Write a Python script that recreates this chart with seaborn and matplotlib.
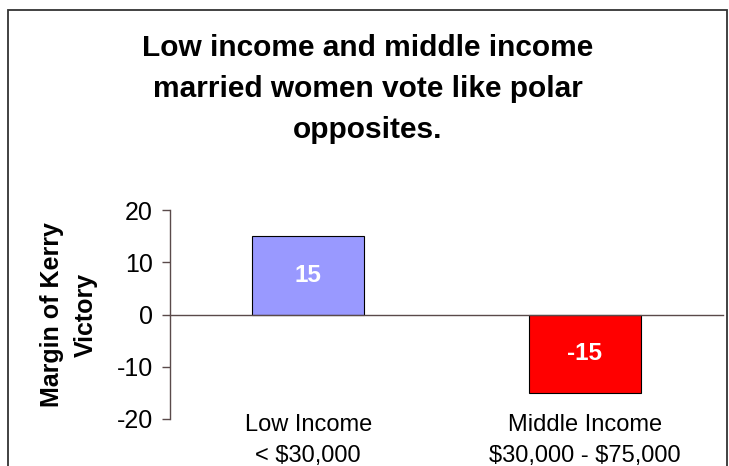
import matplotlib
matplotlib.use("Agg")
import matplotlib.pyplot as plt
import matplotlib.transforms as mtransforms
from matplotlib.patches import Rectangle
import seaborn as sns
import pandas as pd

categories = ["Low Income\n< $30,000", "Middle Income\n$30,000 - $75,000"]
margins = [15, -15]
bar_colors = ["#9999FF", "#FF0000"]
bar_labels = ["15", "-15"]
yticks = [-20, -10, 0, 10, 20]
title = "Low income and middle income\nmarried women vote like polar\nopposites."
ylabel = "Margin of Kerry\nVictory"

sns.set_theme(style="white")
plt.rcParams["font.family"] = ["Liberation Sans", "DejaVu Sans"]
plt.rcParams["text.color"] = "black"
plt.rcParams["axes.labelcolor"] = "black"
plt.rcParams["xtick.color"] = "black"
plt.rcParams["ytick.color"] = "black"

df = pd.DataFrame({"cat": categories, "margin": margins})

W, H = 729, 466
fig = plt.figure(figsize=(W / 100, H / 100), dpi=100)
ax = fig.add_axes([170 / W, 1 - 419 / H, (723 - 170) / W, (419 - 210) / H])

sns.barplot(data=df, x="cat", y="margin", hue="cat", palette=bar_colors,
            width=0.405, edgecolor="black", linewidth=0.8, legend=False,
            saturation=1, ax=ax)

ax.set_xlim(-0.5, 1.5)
ax.set_ylim(-20, 20)
ax.set_yticks(yticks)
ax.set_yticklabels([str(t) for t in yticks], fontsize=18)

axis_color = "#5a4a4a"
for s in ["top", "right"]:
    ax.spines[s].set_visible(False)
ax.spines["bottom"].set_position(("data", 0))
ax.spines["bottom"].set_color(axis_color)
ax.spines["left"].set_color(axis_color)
ax.spines["bottom"].set_linewidth(1.0)
ax.spines["left"].set_linewidth(1.0)

ax.set_xticks([-0.5, 0.5, 1.5])
ax.set_xticklabels(["", "", ""])
ax.tick_params(axis="x", direction="out", length=5, color=axis_color, width=1.0)
ax.tick_params(axis="y", direction="out", length=5.5, color=axis_color, width=1.0,
               left=True, pad=7, labelcolor="black")
ax.set_xlabel("")
ax.set_ylabel(ylabel, fontsize=18, fontweight="bold", linespacing=1.5,
              color="black")
ax.yaxis.set_label_coords((98 - 170) / 553, 0.5)

trans = mtransforms.blended_transform_factory(ax.transData, ax.transAxes)
for i, c in enumerate(categories):
    ax.text(i, 0.025, c.replace("$", r"\$"), transform=trans, ha="center",
            va="top", fontsize=17, linespacing=1.55, color="black")

for i, (v, lab) in enumerate(zip(margins, bar_labels)):
    ax.text(i, v / 2, lab, ha="center", va="center", color="white",
            fontsize=17.5, fontweight="bold")

fig.text(0.5 * (8 + 727) / W, 1 - 34 / H, title, ha="center", va="top",
         fontsize=21.5, fontweight="bold", linespacing=1.6, color="black")

fig.patches.append(Rectangle((8 / W, -0.1), (727 - 8) / W, 1.1 - 10 / H,
                             transform=fig.transFigure, fill=False,
                             edgecolor="#333333", linewidth=1.3))

fig.savefig("out.png", dpi=100)
